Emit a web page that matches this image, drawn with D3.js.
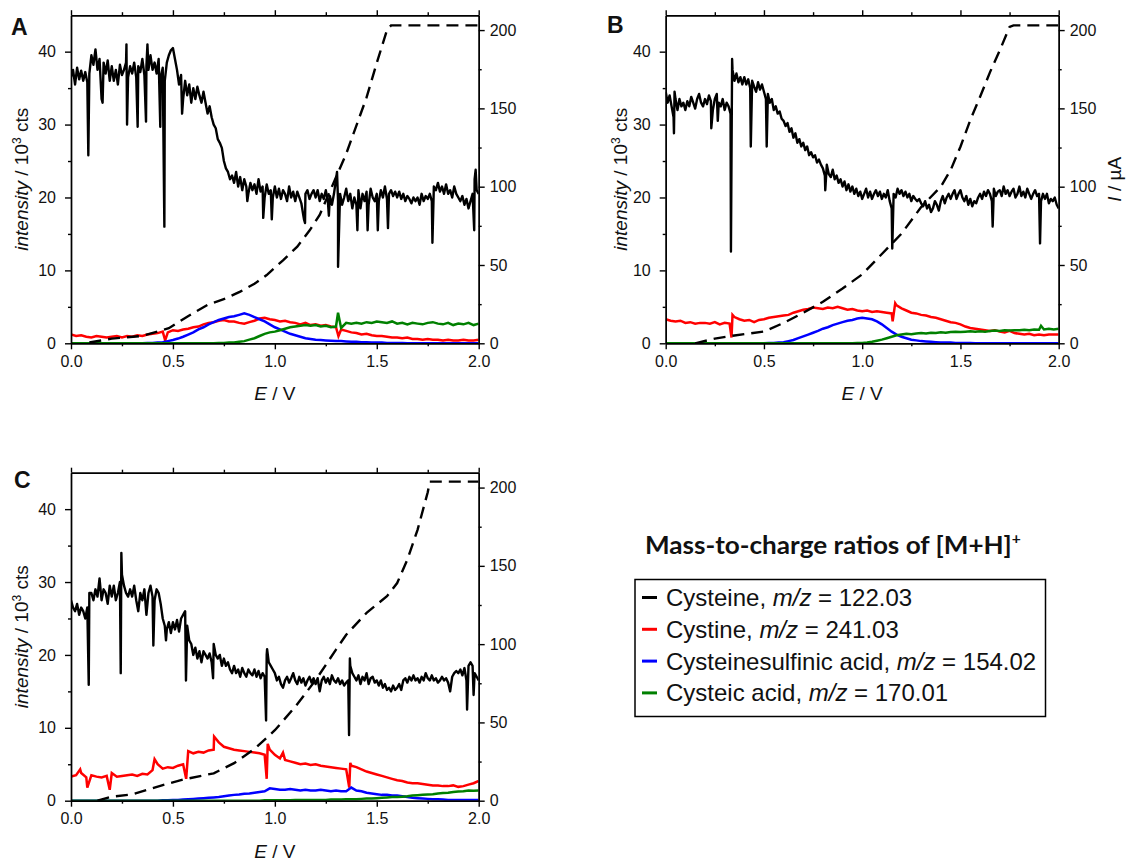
<!DOCTYPE html>
<html>
<head>
<meta charset="utf-8">
<script src="https://cdn.jsdelivr.net/npm/d3@7"></script>
<style>
    body { margin: 0; background: #fff; }
    text { font-family: "Liberation Sans", Arial, sans-serif; fill: #111; }
</style>
</head>
<body>
<svg id="chart" width="1142" height="862"></svg>
<script>

// ---------- data ----------
// cysteine (black), sampled every 0.01 V, 0.00 .. 2.00 V
const cysteineA = [
    36.5, 37.5, 35.5, 37.8, 36.2, 37.4, 36.0, 37.2, 35.8, 37.0,
    39.5, 38.2, 40.3, 37.5, 39.0, 33.5, 38.5, 37.0, 38.8, 36.0,
    38.0, 36.0, 37.5, 35.5, 38.2, 36.8, 37.5, 38.5, 36.5, 38.0,
    37.0, 38.5, 36.5, 38.0, 37.2, 39.0, 36.8, 38.0, 37.5, 39.5,
    37.5, 38.5, 37.0, 39.0, 36.5, 37.8, 36.0, 38.5, 39.5, 40.2,
    40.5, 39.0, 37.5, 35.5, 36.8, 33.5, 36.0, 34.0, 35.5, 33.0,
    35.0, 33.5, 35.2, 34.0, 33.0, 34.5, 33.0, 31.5, 32.5, 31.0,
    30.0, 29.5, 28.0, 27.5, 26.8, 25.0, 24.0, 23.5, 22.5, 23.0,
    22.0, 23.5, 21.5, 22.8, 21.0, 22.5, 21.5, 20.5, 22.0, 21.0,
    21.8, 20.5, 22.5, 20.8, 21.5, 20.0, 21.8, 20.5, 21.0, 20.0,
    21.5, 20.0, 21.2, 19.8, 21.0, 20.5, 19.5, 21.5, 20.0, 20.8,
    19.5, 20.8, 20.0, 19.2, 17.5, 20.5, 21.0, 19.8, 20.5, 21.0,
    20.0, 21.0, 19.5, 20.5, 19.8, 21.0, 19.5, 20.2, 19.0, 20.5,
    22.5, 19.5, 20.5, 19.0, 20.0, 21.2, 19.5, 20.5, 18.5, 20.0,
    19.0, 21.0, 18.5, 20.5, 19.5, 20.8, 19.0, 21.2, 20.0, 19.5,
    20.5, 19.5, 21.0, 20.0, 21.5, 19.8, 20.5, 21.0, 20.2, 20.8,
    20.0, 20.8, 19.8, 20.5, 19.5, 20.2, 19.8, 19.2, 20.0, 19.5,
    20.0, 19.0, 20.5, 19.5, 20.2, 19.8, 20.5, 19.5, 21.5, 21.0,
    22.0, 20.8, 21.5, 20.5, 21.8, 20.5, 21.0, 20.0, 21.5, 20.5,
    20.0, 19.5, 20.2, 19.0, 19.8, 18.5, 19.5, 20.5, 22.5, 21.0,
    20.5
];
const cysteineSpikesA = [[0.085, 25.8], [0.155, 33], [0.272, 41], [0.275, 30], [0.327, 29.7], [0.368, 30.4],
    [0.375, 41], [0.438, 29.7], [0.458, 16], [0.545, 31.5], [0.865, 19.5], [0.943, 17.2], [0.985, 17.0],
    [1.143, 17.0], [1.148, 16.5], [1.265, 17.5], [1.305, 23.5], [1.31, 10.5], [1.405, 15.5], [1.455, 15.5],
    [1.505, 15.5], [1.555, 15.8], [1.773, 13.8], [1.978, 15.5], [1.985, 23.8]];

const cysteineB = [
    34.5, 33.0, 34.0, 32.5, 31.0, 33.5, 32.0, 33.5, 32.5, 33.0,
    32.0, 33.2, 32.5, 33.8, 33.0, 32.2, 33.5, 34.2, 33.0, 32.5,
    33.5, 32.8, 34.0, 33.2, 32.0, 33.5, 34.2, 33.0, 32.5, 33.5,
    32.0, 33.0, 32.5, 31.5, 37.5, 36.0, 37.0, 35.8, 36.5, 35.5,
    36.5, 35.5, 36.2, 35.0, 36.0, 35.2, 34.5, 35.8, 34.8, 35.5,
    34.5, 33.5, 34.2, 33.0, 33.5, 32.0, 32.5, 31.5, 31.8, 30.8,
    30.5, 29.8, 30.2, 29.0, 29.5, 28.2, 28.8, 27.5, 28.0, 27.0,
    27.5, 26.5, 27.0, 25.8, 26.2, 25.5, 25.8, 24.8, 25.2, 24.5,
    24.0, 23.0, 24.5, 23.2, 22.8, 23.8, 22.5, 23.0, 22.0, 22.5,
    21.5, 22.2, 21.0, 21.8, 20.8, 21.5, 20.5, 21.2, 20.2, 20.8,
    19.8, 20.5, 21.2, 20.0, 20.8, 19.8, 20.5, 21.0, 20.2, 20.8,
    19.8, 20.5, 20.0, 21.0, 19.5, 18.5, 20.5, 20.0, 21.2, 20.5,
    21.0, 20.2, 20.8, 20.0, 20.5, 19.5, 20.2, 19.8, 19.5, 19.8,
    19.2, 18.8, 19.5, 18.5, 19.0, 18.0, 18.5, 19.5, 19.0, 18.2,
    19.5, 20.2, 19.2, 20.0, 20.5, 19.8, 20.5, 21.0, 19.8, 20.5,
    21.0, 20.0, 19.5, 20.2, 19.0, 19.8, 18.8, 19.5, 19.2, 20.0,
    20.5, 19.8, 20.8, 20.2, 21.0, 20.5, 19.5, 21.2, 20.2, 20.8,
    21.0, 20.2, 21.5, 20.5, 21.0, 20.2, 20.8, 21.2, 20.0, 20.5,
    21.5, 20.2, 20.8, 20.0, 21.2, 20.5, 19.8, 20.5, 21.0, 20.2,
    20.5, 19.5, 20.5, 19.8, 20.5, 19.2, 19.8, 19.5, 20.0, 19.0,
    18.5
];
const cysteineSpikesB = [[0.042, 28.8], [0.045, 34.5], [0.232, 29.5], [0.265, 30.5], [0.332, 12.6], [0.338, 39.0],
    [0.433, 27.0], [0.514, 27.0], [0.812, 21.0], [1.153, 13.0], [1.664, 16.0], [1.905, 13.7]];

const cysteineC = [
    27.5, 26.5, 26.0, 27.0, 25.5, 26.5, 26.0, 25.0, 26.5, 28.5,
    28.5, 27.5, 29.0, 28.0, 30.5, 27.5, 29.0, 28.5, 27.0, 29.5,
    28.0, 29.5, 27.5, 28.5, 30.0, 31.0, 29.5, 28.5, 28.0, 29.0,
    28.0, 29.5, 27.5, 26.0, 28.5, 27.5, 29.0, 25.5, 28.5, 29.5,
    28.0, 27.5, 29.0, 28.5, 27.0, 25.0, 24.0, 23.5, 24.5, 23.0,
    24.5, 23.5, 24.8, 23.2, 25.0, 25.5, 26.0, 24.0, 22.0, 21.5,
    20.0, 21.0, 19.5, 20.5, 19.0, 20.5, 20.0, 19.5, 20.2, 19.0,
    21.5, 20.0, 19.5, 20.0, 18.5, 19.5, 18.5, 19.0, 18.0, 17.5,
    18.5, 17.5, 18.0, 17.0, 18.2, 17.5, 17.0, 18.0, 17.5, 17.2,
    18.0, 17.0, 17.8, 16.8, 17.5, 17.0, 20.0, 19.0, 18.5, 18.0,
    17.5, 16.5, 17.0, 16.0, 15.5, 16.5, 17.0, 16.2, 16.8, 17.5,
    16.5, 16.0, 17.0, 16.2, 16.8, 15.8, 16.5, 17.0, 16.2, 16.8,
    16.0, 16.8, 15.0, 16.5, 17.0, 16.2, 16.8, 16.0, 17.2, 16.5,
    16.2, 16.8, 16.0, 16.5, 15.8, 16.2, 16.5, 18.5, 17.5, 17.0,
    16.5, 17.2, 16.0, 17.0, 16.5, 17.5, 16.0, 16.8, 17.0, 16.2,
    16.5, 15.8, 16.5, 15.5, 16.0, 15.2, 15.5, 15.0, 15.8, 15.2,
    15.5, 16.0, 15.2, 16.5, 16.8, 16.2, 17.0, 16.5, 17.2, 16.5,
    16.8, 16.2, 17.0, 16.5, 17.5, 16.8, 16.5, 17.2, 16.5, 16.8,
    16.2, 16.5, 17.0, 16.5, 16.8, 16.2, 15.0, 17.0, 17.5, 17.8,
    17.5, 18.0, 17.2, 18.2, 16.5, 18.5, 19.0, 18.5, 17.5, 17.0,
    16.5
];
const cysteineSpikesC = [[0.087, 15.9], [0.244, 17.5], [0.247, 34.0], [0.404, 21.3], [0.466, 22.0], [0.564, 16.5],
    [0.697, 16.8], [0.957, 11.0], [0.962, 20.8], [1.364, 9.0], [1.368, 19.5], [1.943, 12.5], [1.975, 14.5]];

// cystine (red), cysteinesulfinic acid (blue), cysteic acid (green): every 0.025 V
const cystineA = [
    1.2, 1.0, 1.1, 0.9, 0.8, 1.0, 0.9, 0.8,
    0.9, 1.0, 0.8, 1.0, 0.9, 1.1, 1.0, 1.2,
    1.3, 1.4, 1.6, 1.5, 1.8, 1.7, 1.9, 2.0,
    2.2, 2.3, 2.6, 2.8, 2.9, 3.1, 3.2, 3.0,
    3.0, 2.8, 2.7, 2.9, 3.1, 3.4, 3.5, 3.3,
    3.2, 3.0, 3.1, 2.9, 2.8, 2.6, 2.8, 2.5,
    2.6, 2.4, 2.5, 2.3, 2.2, 1.9, 1.7, 1.5,
    1.4, 1.2, 1.3, 1.1, 1.0, 1.0, 0.9, 0.8,
    0.8, 0.7, 0.8, 0.6, 0.6, 0.5, 0.6, 0.5,
    0.5, 0.4, 0.5, 0.4, 0.4, 0.5, 0.4, 0.4,
    0.5
];
const cystineSpikesA = [[0.462, 0.4], [1.312, 1.0]];
const sulfinicA = [
    0, 0, 0, 0, 0, 0, 0, 0,
    0, 0, 0, 0, 0, 0, 0, 0.05,
    0.05, 0.1, 0.15, 0.3, 0.45, 0.65, 0.9, 1.2,
    1.5, 1.9, 2.2, 2.6, 2.9, 3.2, 3.4, 3.6,
    3.7, 3.9, 4.1, 3.9, 3.6, 3.3, 3.0, 2.6,
    2.2, 1.9, 1.6, 1.3, 1.1, 0.9, 0.7, 0.6,
    0.5, 0.45, 0.4, 0.35, 0.3, 0.3, 0.25, 0.2,
    0.2, 0.15, 0.15, 0.1, 0.1, 0.1, 0.05, 0.05,
    0.05, 0.05, 0, 0, 0, 0, 0, 0,
    0, 0, 0, 0, 0, 0, 0, 0,
    0
];
const cysteicA = [
    0, 0, 0, 0, 0, 0, 0, 0,
    0, 0, 0, 0, 0, 0, 0, 0,
    0, 0, 0, 0, 0, 0, 0, 0,
    0, 0, 0, 0, 0, 0.05, 0.05, 0.1,
    0.1, 0.2, 0.3, 0.5, 0.7, 1.0, 1.3, 1.5,
    1.6, 1.8, 2.0, 2.2, 2.3, 2.4, 2.5, 2.4,
    2.5, 2.3, 2.4, 2.2, 2.3, 2.1, 2.8, 2.7,
    2.8, 2.7, 2.9, 2.8, 3.0, 2.9, 2.8, 3.0,
    2.7, 2.8, 2.6, 2.8, 2.7, 2.6, 2.8, 2.9,
    2.7, 2.6, 2.8, 2.5, 2.7, 2.6, 2.8, 2.5,
    2.7
];
const cysteicSpikesA = [[1.31, 4.2]];

const cystineB = [
    3.3, 3.1, 3.0, 3.1, 2.8, 2.9, 2.7, 2.8,
    2.8, 2.7, 2.9, 2.6, 2.8, 2.7, 3.6, 3.3,
    3.1, 3.2, 2.9, 3.2, 3.3, 3.5, 3.6, 3.7,
    3.8, 3.9, 4.2, 4.4, 4.6, 4.7, 4.9, 4.8,
    4.7, 4.9, 4.8, 5.0, 4.8, 4.6, 4.7, 4.5,
    4.4, 4.5, 4.3, 4.4, 4.3, 4.2, 4.1, 5.2,
    4.8, 4.5, 4.2, 4.1, 3.9, 3.8, 3.6, 3.5,
    3.3, 3.1, 2.9, 2.8, 2.6, 2.3, 2.1, 2.0,
    1.9, 1.8, 1.7, 1.8, 1.6, 1.5, 1.7, 1.4,
    1.3, 1.2, 1.3, 1.1, 1.2, 1.1, 1.2, 1.2,
    1.2
];
const cystineSpikesB = [[0.335, 0.8], [0.34, 3.9], [1.155, 3.0], [1.168, 5.5]];
const sulfinicB = [
    0, 0, 0, 0, 0, 0, 0, 0,
    0, 0, 0, 0, 0, 0, 0, 0,
    0, 0, 0, 0, 0, 0.05, 0.05, 0.1,
    0.15, 0.3, 0.45, 0.7, 0.95, 1.2, 1.45, 1.7,
    2.0, 2.2, 2.5, 2.7, 2.9, 3.1, 3.2, 3.4,
    3.5, 3.4, 3.3, 3.0, 2.6, 2.1, 1.6, 1.2,
    0.9, 0.7, 0.5, 0.4, 0.3, 0.25, 0.2, 0.15,
    0.1, 0.1, 0.1, 0.05, 0.05, 0.05, 0.05, 0,
    0, 0, 0, 0, 0, 0, 0, 0,
    0, 0, 0, 0, 0, 0, 0, 0,
    0
];
const cysteicB = [
    0, 0, 0, 0, 0, 0, 0, 0,
    0, 0, 0, 0, 0, 0, 0, 0,
    0, 0, 0, 0, 0, 0, 0, 0,
    0, 0, 0, 0, 0, 0, 0, 0,
    0, 0, 0, 0, 0, 0, 0, 0.05,
    0.05, 0.1, 0.2, 0.35, 0.5, 0.7, 0.9, 1.1,
    1.2, 1.3, 1.25, 1.35, 1.4, 1.35, 1.45, 1.4,
    1.5, 1.45, 1.55, 1.6, 1.55, 1.6, 1.65, 1.6,
    1.65, 1.6, 1.7, 1.75, 1.7, 1.8, 1.75, 1.8,
    1.8, 1.85, 1.8, 1.9, 1.85, 1.9, 2.0, 1.9,
    2.0
];
const cysteicSpikesB = [[1.91, 2.4]];

const cystineC = [
    3.3, 3.5, 3.8, 3.2, 3.5, 3.3, 3.2, 3.4,
    3.8, 3.3, 3.4, 3.5, 3.6, 3.4, 3.7, 3.6,
    4.2, 5.0, 4.4, 4.6, 4.5, 4.8, 5.0, 6.8,
    6.5, 6.7, 6.6, 6.9, 7.0, 8.0, 7.4, 7.2,
    7.0, 6.9, 6.8, 6.7, 6.6, 6.5, 6.3, 7.0,
    6.3, 5.8, 5.6, 5.4, 5.2, 5.0, 5.1, 4.9,
    5.0, 4.8, 4.7, 4.6, 4.5, 4.4, 4.3, 4.8,
    4.6, 4.3, 4.0, 3.8, 3.6, 3.4, 3.2, 3.0,
    2.8, 2.7, 2.5, 2.4, 2.4, 2.3, 2.2, 2.1,
    2.1, 2.0, 2.0, 2.1, 1.9, 2.0, 2.2, 2.4,
    2.7
];
const cystineSpikesC = [[0.045, 4.3], [0.08, 1.8], [0.19, 1.5], [0.41, 5.7], [0.565, 3.0], [0.702, 8.8],
    [0.96, 3.0], [0.965, 7.8], [1.04, 6.6], [1.365, 1.8], [1.37, 5.2]];
const sulfinicC = [
    0, 0, 0, 0, 0, 0, 0, 0,
    0, 0, 0, 0, 0, 0, 0, 0,
    0, 0, 0.05, 0.05, 0.1, 0.1, 0.15, 0.2,
    0.25, 0.3, 0.35, 0.4, 0.45, 0.5, 0.6, 0.7,
    0.8, 0.85, 0.95, 1.0, 1.1, 1.2, 1.3, 1.7,
    1.6, 1.5, 1.5, 1.6, 1.5, 1.4, 1.5, 1.4,
    1.4, 1.5, 1.4, 1.3, 1.4, 1.3, 1.3, 1.8,
    1.4, 1.3, 1.1, 1.0, 0.9, 0.8, 0.8, 0.7,
    0.7, 0.6, 0.5, 0.4, 0.35, 0.3, 0.25, 0.2,
    0.2, 0.15, 0.1, 0.1, 0.1, 0.1, 0.1, 0.1,
    0.1
];
const cysteicC = [
    0, 0, 0, 0, 0, 0, 0, 0,
    0, 0, 0, 0, 0, 0, 0, 0,
    0, 0, 0, 0, 0, 0, 0, 0,
    0, 0, 0, 0, 0, 0, 0, 0,
    0, 0, 0, 0, 0, 0, 0.05, 0.05,
    0.05, 0.05, 0.05, 0.05, 0.1, 0.1, 0.1, 0.1,
    0.1, 0.1, 0.1, 0.15, 0.15, 0.15, 0.2, 0.2,
    0.2, 0.25, 0.3, 0.3, 0.35, 0.4, 0.45, 0.5,
    0.5, 0.55, 0.6, 0.7, 0.75, 0.8, 0.85, 0.9,
    1.0, 1.05, 1.1, 1.2, 1.25, 1.3, 1.4, 1.35,
    1.4
];

// cell current I / µA (dashed), [E, I]
const currentA = [[0.09, 0.5], [0.2, 3], [0.35, 4.7], [0.45, 8.5], [0.48, 9.6], [0.57, 17], [0.67, 24.5],
    [0.76, 28.7], [0.83, 33], [0.9, 38], [0.96, 43.6], [1.04, 53], [1.11, 61.7], [1.17, 72], [1.22, 82],
    [1.3, 106], [1.35, 121], [1.4, 139], [1.45, 157], [1.5, 179], [1.55, 200], [1.57, 203], [2.0, 203]];
const currentB = [[0.15, 0], [0.25, 3], [0.35, 5], [0.5, 7.5], [0.6, 13], [0.7, 19.5], [0.8, 26.5],
    [0.9, 35], [1.0, 44], [1.1, 57], [1.2, 70], [1.3, 87], [1.4, 100], [1.45, 110.6], [1.5, 125.5],
    [1.55, 142.5], [1.6, 157.4], [1.65, 173], [1.7, 187], [1.75, 202], [1.77, 203], [2.0, 203]];
const currentC = [[0.13, 0], [0.2, 2.6], [0.3, 4], [0.45, 10], [0.55, 13.5], [0.7, 17.5], [0.8, 24],
    [0.9, 33], [1.0, 45], [1.1, 60], [1.2, 77], [1.3, 96.5], [1.35, 106], [1.45, 120], [1.55, 130.6],
    [1.6, 139], [1.65, 154], [1.7, 173], [1.75, 197], [1.76, 203.8], [2.0, 203.8]];

const xTicks = [0, 0.5, 1.0, 1.5, 2.0];
const yTicks = [0, 10, 20, 30, 40];
const iTicks = [0, 50, 100, 150, 200];

const legendItems = [
    {name: "Cysteine, ", mz: "122.03", color: "#000000"},
    {name: "Cystine, ", mz: "241.03", color: "#ff0000"},
    {name: "Cysteinesulfinic acid, ", mz: "154.02", color: "#0000ff"},
    {name: "Cysteic acid, ", mz: "170.01", color: "#008000"}
];

// ---------- drawing ----------
let svg = d3.select("#chart");

// grid values + single-sample spikes, sorted by potential
function series(values, step, spikes) {
    let pts = values.map((v, i) => [+(i * step).toFixed(3), v]);
    return pts.concat(spikes || []).sort((a, b) => a[0] - b[0]);
}

const panels = [
    {label: "A", left: 71, right: 478.7, top: 15.2, bottom: 343.3, letterX: 11, letterY: 35, yTitleX: 28, iTitle: false,
        black: series(cysteineA, 0.01, cysteineSpikesA), red: series(cystineA, 0.025, cystineSpikesA),
        blue: series(sulfinicA, 0.025), green: series(cysteicA, 0.025, cysteicSpikesA), current: currentA},
    {label: "B", left: 665.7, right: 1058.7, top: 15.2, bottom: 343.3, letterX: 607, letterY: 33, yTitleX: 627, iTitle: true,
        black: series(cysteineB, 0.01, cysteineSpikesB), red: series(cystineB, 0.025, cystineSpikesB),
        blue: series(sulfinicB, 0.025), green: series(cysteicB, 0.025, cysteicSpikesB), current: currentB},
    {label: "C", left: 71, right: 478.7, top: 472.7, bottom: 800.7, letterX: 14, letterY: 488, yTitleX: 28, iTitle: false,
        black: series(cysteineC, 0.01, cysteineSpikesC), red: series(cystineC, 0.025, cystineSpikesC),
        blue: series(sulfinicC, 0.025), green: series(cysteicC, 0.025), current: currentC}
];

function styleAxis(g, withText) {
    g.select(".domain").attr("stroke", "#000").attr("stroke-width", 1.4);
    g.selectAll(".tick line").attr("stroke", "#000").attr("stroke-width", 1.4);
    g.selectAll(".tick text")
        .attr("font-family", "'Liberation Sans', Arial, sans-serif")
        .attr("font-size", 16)
        .attr("fill", "#111");
    if (!withText) g.selectAll(".tick text").remove();
}

panels.forEach(p => {
    let x = d3.scaleLinear().domain([0, 2]).range([p.left, p.right]);
    let y = d3.scaleLinear().domain([0, 45]).range([p.bottom, p.top]);
    let yI = d3.scaleLinear().domain([0, 209.5]).range([p.bottom, p.top]);

    let g = svg.append("g").attr("class", "panel-" + p.label);

    g.append("clipPath").attr("id", "clip" + p.label)
        .append("rect")
        .attr("x", p.left).attr("y", p.top)
        .attr("width", p.right - p.left).attr("height", p.bottom - p.top);

    let plot = g.append("g").attr("clip-path", `url(#clip${p.label})`);
    let line = d3.line().x(d => x(d[0])).y(d => y(d[1]));
    let lineI = d3.line().x(d => x(d[0])).y(d => yI(d[1]));

    plot.append("path").datum(p.black).attr("d", line)
        .attr("fill", "none").attr("stroke", "#000").attr("stroke-width", 2.4).attr("stroke-linejoin", "round");
    plot.append("path").datum(p.red).attr("d", line)
        .attr("fill", "none").attr("stroke", "#ff0000").attr("stroke-width", 2.5);
    plot.append("path").datum(p.blue).attr("d", line)
        .attr("fill", "none").attr("stroke", "#0000ff").attr("stroke-width", 2.5);
    plot.append("path").datum(p.green).attr("d", line)
        .attr("fill", "none").attr("stroke", "#008000").attr("stroke-width", 2.5);
    plot.append("path").datum(p.current).attr("d", lineI)
        .attr("fill", "none").attr("stroke", "#000").attr("stroke-width", 2.4)
        .attr("stroke-dasharray", "12,7");

    // axes: major + minor ticks on all four sides
    let bottom = g.append("g").attr("transform", `translate(0,${p.bottom})`)
        .call(d3.axisBottom(x).tickValues(xTicks).tickFormat(d3.format(".1f")).tickSize(6).tickSizeOuter(0).tickPadding(6));
    styleAxis(bottom, true);
    styleAxis(g.append("g").attr("transform", `translate(0,${p.bottom})`)
        .call(d3.axisBottom(x).tickValues([0.25, 0.75, 1.25, 1.75]).tickSize(3).tickSizeOuter(0)), false);

    let top = g.append("g").attr("transform", `translate(0,${p.top})`)
        .call(d3.axisTop(x).tickValues(xTicks).tickSize(5).tickSizeOuter(0));
    styleAxis(top, false);
    styleAxis(g.append("g").attr("transform", `translate(0,${p.top})`)
        .call(d3.axisTop(x).tickValues([0.25, 0.75, 1.25, 1.75]).tickSize(3).tickSizeOuter(0)), false);

    let left = g.append("g").attr("transform", `translate(${p.left},0)`)
        .call(d3.axisLeft(y).tickValues(yTicks).tickSize(6).tickSizeOuter(0).tickPadding(9));
    styleAxis(left, true);
    styleAxis(g.append("g").attr("transform", `translate(${p.left},0)`)
        .call(d3.axisLeft(y).tickValues([5, 15, 25, 35]).tickSize(3).tickSizeOuter(0)), false);

    let right = g.append("g").attr("transform", `translate(${p.right},0)`)
        .call(d3.axisRight(yI).tickValues(iTicks).tickSize(6).tickSizeOuter(0).tickPadding(5));
    styleAxis(right, true);
    styleAxis(g.append("g").attr("transform", `translate(${p.right},0)`)
        .call(d3.axisRight(yI).tickValues([25, 75, 125, 175]).tickSize(3).tickSizeOuter(0)), false);

    // titles
    let et = g.append("text")
        .attr("x", (p.left + p.right) / 2).attr("y", p.bottom + 57)
        .attr("text-anchor", "middle").attr("font-size", 19);
    et.append("tspan").attr("font-style", "italic").text("E");
    et.append("tspan").text(" / V");

    let yt = g.append("text")
        .attr("transform", `translate(${p.yTitleX},${(p.top + p.bottom) / 2}) rotate(-90)`)
        .attr("text-anchor", "middle").attr("font-size", 19);
    yt.append("tspan").attr("font-style", "italic").text("intensity");
    yt.append("tspan").text(" / 10");
    yt.append("tspan").attr("font-size", 12).attr("dy", -7).text("3");
    yt.append("tspan").attr("dy", 7).text(" cts");

    if (p.iTitle) {
        let it = g.append("text")
            .attr("transform", `translate(${p.right + 62},${(p.top + p.bottom) / 2}) rotate(-90)`)
            .attr("text-anchor", "middle").attr("font-size", 19);
        it.append("tspan").attr("font-style", "italic").text("I");
        it.append("tspan").text(" / µA");
    }

    g.append("text")
        .attr("x", p.letterX).attr("y", p.letterY)
        .attr("font-size", 23).attr("font-weight", "bold").attr("fill", "#000")
        .text(p.label);
});

// ---------- legend ----------
// narrow bold title: Lato bold squeezed horizontally to the original width
let titleG = svg.append("g");
let legendTitle = titleG.append("text")
    .attr("x", 0).attr("y", 0)
    .style("font-family", "Lato, 'Open Sans', sans-serif")
    .attr("font-weight", 700).attr("font-size", 25).attr("fill", "#000");
legendTitle.append("tspan").text("Mass-to-charge ratios of [M+H]");
legendTitle.append("tspan").attr("font-size", 15).attr("dy", -10).text("+");
let titleW = legendTitle.node().getComputedTextLength();
let sx = titleW > 0 ? 376 / titleW : 1;
titleG.attr("transform", `translate(645,554) scale(${sx},1)`);

svg.append("rect")
    .attr("x", 635).attr("y", 579.5).attr("width", 410.5).attr("height", 137)
    .attr("fill", "none").attr("stroke", "#000").attr("stroke-width", 1.5);

let rows = svg.append("g").selectAll("g")
    .data(legendItems)
    .enter()
    .append("g")
    .attr("transform", (d, i) => `translate(0,${597.5 + i * 31.8})`);

rows.append("line")
    .attr("x1", 642).attr("x2", 657).attr("y1", 0).attr("y2", 0)
    .attr("stroke", d => d.color).attr("stroke-width", 3);

let rowText = rows.append("text")
    .attr("x", 666).attr("y", 8.5)
    .attr("font-size", 24).attr("fill", "#111");
rowText.append("tspan").text(d => d.name);
rowText.append("tspan").attr("font-style", "italic").text("m/z");
rowText.append("tspan").text(d => " = " + d.mz);

</script>
</body>
</html>
